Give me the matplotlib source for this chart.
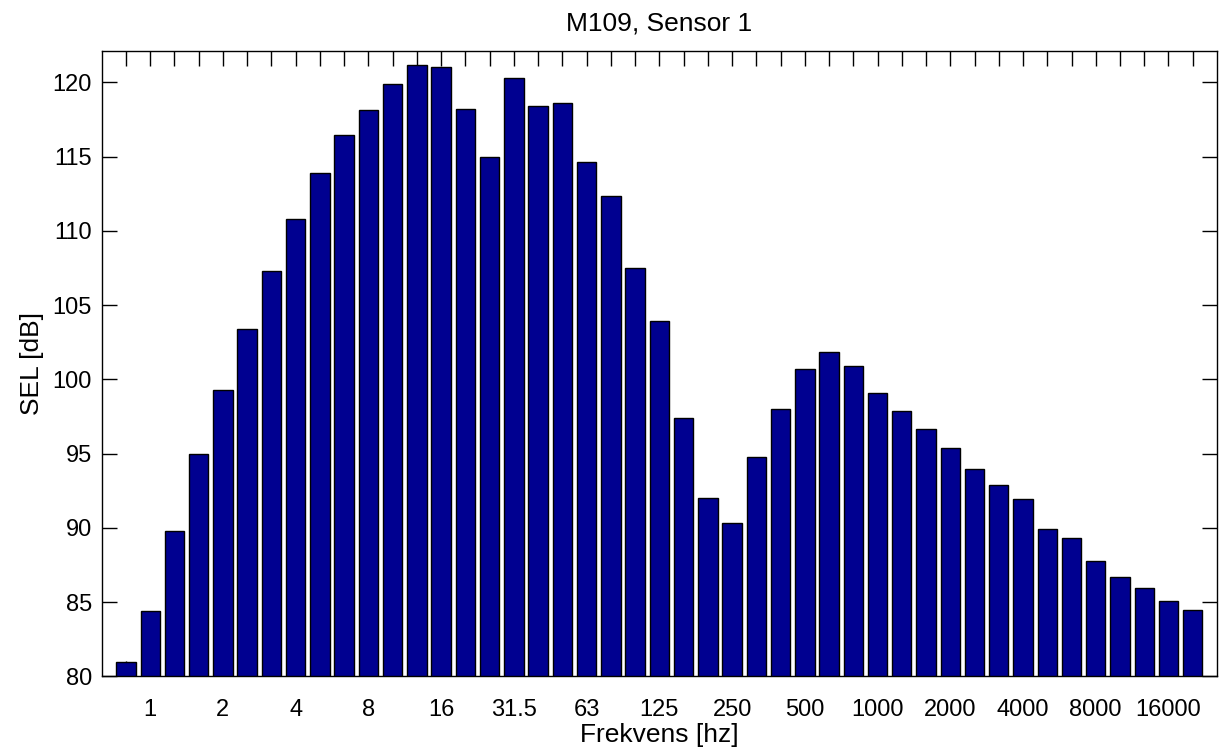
import matplotlib
matplotlib.use("Agg")
import matplotlib.pyplot as plt
import numpy as np

plt.rcParams['font.family'] = ['Liberation Sans', 'DejaVu Sans']

# 1/3-octave band centre frequencies (Hz)
bands = ["0.8", "1", "1.25", "1.6", "2", "2.5", "3.15", "4", "5", "6.3", "8", "10",
         "12.5", "16", "20", "25", "31.5", "40", "50", "63", "80", "100", "125",
         "160", "200", "250", "315", "400", "500", "630", "800", "1000", "1250",
         "1600", "2000", "2500", "3150", "4000", "5000", "6300", "8000", "10000",
         "12500", "16000", "20000"]

# SEL values (dB)
sel = [80.95, 84.4, 89.8, 95.0, 99.3, 103.4, 107.3, 110.8, 113.9, 116.45, 118.1,
       119.9, 121.14, 121.0, 118.2, 114.95, 120.3, 118.4, 118.6, 114.6, 112.35,
       107.5, 103.9, 97.4, 92.0, 90.35, 94.75, 98.0, 100.7, 101.83, 100.9, 99.1,
       97.9, 96.67, 95.4, 93.98, 92.86, 91.98, 89.9, 89.35, 87.8, 86.68, 85.95,
       85.1, 84.5]

# Labels shown on the x axis (every third band)
shown_labels = ["1", "2", "4", "8", "16", "31.5", "63", "125", "250", "500",
                "1000", "2000", "4000", "8000", "16000"]

yticks = [80, 85, 90, 95, 100, 105, 110, 115, 120]

fig = plt.figure(figsize=(12.21, 7.47), dpi=100)
ax = fig.add_axes([0.0833, 0.0944, 0.9134, 0.8373])

x = np.arange(len(bands))
ax.bar(x, sel, width=0.8, bottom=0, color='#000090', edgecolor='black',
       linewidth=1.0, zorder=1)

ax.set_axisbelow(True)
ax.set_xlim(-1, len(bands))
ax.set_ylim(80, 122.1)

ticklabels = [b if b in shown_labels else "" for b in bands]
ax.set_xticks(x)
ax.set_xticklabels(ticklabels)
ax.set_yticks(yticks)

ax.tick_params(axis='both', direction='in', length=11, width=1.0,
               top=True, right=True, labelsize=17, colors='black')
ax.tick_params(axis='x', pad=16)
ax.tick_params(axis='y', pad=7)
for s in ax.spines.values():
    s.set_linewidth(1.0)

ax.set_title("M109, Sensor 1", fontsize=19, pad=15)
ax.set_xlabel("Frekvens [hz]", fontsize=19, labelpad=2)
ax.set_ylabel("SEL [dB]", fontsize=19, labelpad=6)

fig.savefig("out.png", dpi=100)
